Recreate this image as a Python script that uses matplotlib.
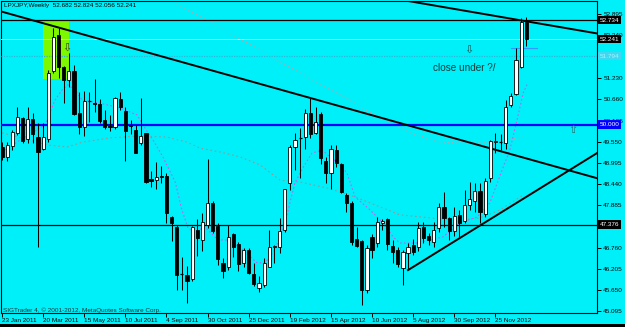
import matplotlib
matplotlib.use('Agg')
import matplotlib.pyplot as plt
import matplotlib.transforms as mtransforms
from matplotlib.patches import Rectangle
import numpy as np

# ---------------- data ----------------
opens = [49.42, 49.16, 49.44, 49.79, 50.16, 49.61, 50.14, 49.66, 49.35, 49.61,
         51.40, 52.35, 51.50, 51.17, 51.40, 50.31, 49.94, 50.62, 50.57, 50.53,
         50.12, 49.96, 49.93, 50.66, 50.36, 49.99, 49.86, 49.51, 49.77, 48.56,
         48.54, 48.65, 48.65, 47.56, 47.32, 46.08, 46.05, 45.94, 47.23, 46.97,
         47.36, 47.95, 47.34, 46.37, 46.27, 47.13, 46.86, 46.37, 46.72, 46.09,
         45.70, 45.79, 46.27, 46.78, 46.78, 47.23, 48.46, 49.42, 49.64, 49.68,
         50.29, 49.79, 50.28, 49.05, 48.72, 49.33, 48.96, 48.15, 47.93, 46.99,
         46.95, 45.67, 47.04, 46.90, 47.42, 47.51, 46.81, 46.72, 46.23, 46.64,
         46.84, 46.79, 47.30, 47.07, 46.93, 47.28, 47.84, 47.54, 47.21, 47.63,
         47.48, 47.89, 48.00, 48.26, 47.65, 48.59, 49.55, 49.53, 49.52, 50.51,
         50.80, 51.52, 52.682]
highs = [49.55, 49.55, 49.86, 50.45, 50.21, 50.47, 50.29, 50.03, 50.03, 51.43,
         52.52, 52.52, 51.54, 51.87, 51.56, 50.86, 50.88, 50.86, 51.19, 50.66,
         50.38, 50.25, 50.71, 50.86, 50.47, 50.12, 49.99, 50.69, 49.79, 48.79,
         49.02, 48.91, 48.72, 47.60, 47.36, 46.53, 46.29, 47.34, 47.51, 47.67,
         49.09, 47.98, 47.41, 46.49, 47.36, 47.16, 46.93, 46.75, 46.75, 46.36,
         46.02, 46.51, 47.23, 46.84, 47.54, 48.32, 49.46, 49.79, 49.90, 50.40,
         50.69, 50.47, 50.34, 49.16, 49.46, 49.46, 48.98, 48.19, 47.98, 47.32,
         46.97, 46.84, 47.13, 47.58, 47.51, 47.54, 46.97, 46.79, 46.71, 46.88,
         46.99, 47.45, 47.45, 47.16, 47.45, 47.93, 48.24, 47.58, 47.83, 47.76,
         48.28, 48.50, 48.47, 48.46, 48.59, 49.59, 49.77, 49.75, 50.64, 50.84,
         52.00, 52.79, 52.824]
lows = [49.07, 49.05, 49.33, 49.72, 49.51, 49.51, 49.51, 46.78, 49.33, 49.55,
        51.34, 51.21, 50.57, 50.98, 50.25, 49.75, 49.70, 50.07, 50.34, 50.03,
        49.87, 49.84, 49.87, 50.38, 49.05, 49.75, 49.24, 49.46, 48.46, 48.37,
        48.32, 48.46, 47.41, 46.95, 45.66, 45.66, 45.31, 45.90, 46.55, 46.69,
        47.28, 47.16, 46.31, 45.96, 46.18, 46.53, 46.16, 46.27, 46.09, 45.76,
        45.61, 45.74, 46.25, 46.36, 46.62, 47.19, 48.28, 48.81, 48.59, 49.37,
        49.64, 49.75, 48.96, 48.46, 48.32, 48.88, 48.19, 47.71, 46.84, 46.78,
        45.26, 45.57, 46.51, 46.79, 47.23, 46.72, 46.36, 46.27, 45.79, 46.20,
        46.58, 46.69, 46.88, 46.84, 46.79, 47.19, 47.32, 46.97, 47.07, 47.06,
        47.41, 47.76, 47.71, 47.41, 47.58, 48.50, 49.24, 49.33, 49.35, 50.47,
        50.77, 51.47, 52.056]
closes = [49.16, 49.46, 49.81, 50.19, 49.58, 50.14, 49.75, 49.29, 49.66, 51.36,
          52.30, 51.50, 51.17, 51.40, 50.28, 49.94, 50.62, 50.63, 50.54, 50.10,
          49.93, 49.94, 50.69, 50.47, 49.84, 49.96, 49.26, 49.70, 48.50, 48.53,
          48.61, 48.62, 47.67, 47.41, 46.05, 46.06, 45.90, 47.32, 47.01, 47.45,
          47.93, 47.21, 46.46, 46.16, 47.04, 46.78, 46.34, 46.72, 46.11, 45.81,
          45.83, 46.37, 46.78, 46.81, 47.21, 48.30, 49.42, 49.59, 49.65, 50.31,
          49.75, 50.07, 49.11, 48.72, 49.37, 48.98, 48.24, 47.93, 46.93, 46.81,
          45.66, 46.75, 46.72, 47.45, 47.48, 46.86, 46.66, 46.34, 46.66, 46.78,
          46.66, 47.28, 47.01, 46.97, 47.23, 47.84, 47.54, 47.21, 47.60, 47.41,
          47.89, 48.04, 48.26, 47.71, 48.53, 49.58, 49.57, 49.55, 50.47, 50.75,
          51.68, 52.68, 52.241]

date_tick_idx = [0, 8, 16, 24, 32, 40, 48, 56, 64, 72, 80, 88, 96]
date_labels = ['23 Jan 2011', '20 Mar 2011', '15 May 2011', '10 Jul 2011', '4 Sep 2011',
               '30 Oct 2011', '25 Dec 2011', '19 Feb 2012', '15 Apr 2012', '10 Jun 2012',
               '5 Aug 2012', '30 Sep 2012', '25 Nov 2012']
price_ticks = [52.895, 52.340, 51.230, 50.660, 50.105, 49.550, 48.995, 48.440,
               47.885, 46.760, 46.205, 45.650, 45.095]

# horizontal levels
level_black = [52.734, 47.376]
level_bid = 52.241
level_dotted = 51.794
level_blue = 50.000

# trend lines (index, price)
trend_down_idx = [0, 115]
trend_down_px = [52.96, 48.62]
trend_top_idx = [80.35, 115.76]
trend_top_px = [53.21, 52.39]
trend_up_idx = [79, 115.76]
trend_up_px = [46.18, 49.25]

# indicator lines
ma_fast_idx = [0.6, 3.5, 8.4, 10.3, 11.7, 12.8, 14.2, 15.6, 19.1, 23.0, 26.3, 27.4, 29.4,
               31.3, 33.7, 35.0, 36.2, 37.5, 39.5, 42.0, 44.0, 46.9, 49.6, 51.2, 53.1,
               55.1, 56.0, 57.0, 58.6, 60.3, 62.3, 63.8, 65.4, 67.1, 68.7, 71.6, 74.1,
               76.1, 77.4, 80.7, 83.3, 85.8, 89.1, 92.4, 94.9, 97.5, 98.8, 100.2, 101.4, 102.3]
ma_fast_px = [49.33, 49.59, 49.99, 50.64, 50.91, 51.04, 50.91, 50.64, 50.56, 50.43, 50.25,
              49.99, 49.59, 49.15, 48.49, 47.76, 47.28, 47.18, 47.31, 46.97, 46.97, 46.71,
              46.37, 46.37, 46.71, 47.42, 47.94, 48.47, 48.88, 49.25, 49.33, 49.15, 48.99,
              48.73, 48.10, 47.76, 47.42, 47.05, 46.89, 46.89, 46.97, 47.05, 47.42, 47.57,
              47.94, 48.88, 49.33, 50.12, 50.83, 51.09]
ma_slow_idx = [0, 5.45, 8.95, 12.65, 15.76, 21.0, 26.85, 32.1, 36.0, 38.5, 42.4, 46.3,
               50.2, 54.1, 58.0, 63.4, 68.7, 72.6, 77.4, 83.3, 89.1, 93.0, 96.9, 101.4]
ma_slow_px = [49.78, 49.59, 49.46, 49.41, 49.54, 49.65, 49.70, 49.67, 49.54, 49.38, 49.28,
              49.15, 48.94, 48.54, 48.49, 48.33, 48.10, 47.89, 47.63, 47.55, 47.49, 47.55,
              47.76, 48.15]
env_idx = [33.07, 40.47, 50.2, 58.0, 67.7, 73.5, 79.4, 85.2, 90.5, 95.5, 101.4]
env_px = [53.24, 52.69, 51.95, 51.35, 50.64, 50.17, 49.78, 49.54, 49.51, 49.54, 49.67]

# highlighted box
box_idx = [8.03, 13.03]
box_px = [51.19, 52.72]

# ---------------- drawing ----------------
W, H = 625, 327
BG = '#00F0FA'
FONT = 'Liberation Sans'
fig = plt.figure(figsize=(W / 100, H / 100), dpi=100)
fig.patch.set_facecolor(BG)

ax = fig.add_axes([1 / W, 1 - 313 / H, 596 / W, 312 / H])
ax.set_facecolor(BG)
ax.set_xlim(-0.195, 115.76)
ax.set_ylim(45.054, 53.241)
for s in ax.spines.values():
    s.set_color('black')
    s.set_linewidth(0.8)

# green box
ax.add_patch(Rectangle((box_idx[0], box_px[0]), box_idx[1] - box_idx[0], box_px[1] - box_px[0],
                       facecolor='#7CF800', edgecolor='none', zorder=1))

# indicator lines
ax.plot(env_idx, env_px, color='#9AB0B8', lw=0.8, ls=(0, (1.5, 2.5)), zorder=2)
ax.plot(ma_slow_idx, ma_slow_px, color='#8A9C9C', lw=0.8, ls=(0, (1.5, 2.5)), zorder=2)
ax.plot(ma_fast_idx, ma_fast_px, color='#C060F0', lw=0.8, ls=(0, (1.5, 2.0)), zorder=2)

# horizontal levels
for lv in level_black:
    ax.axhline(lv, color='black', lw=0.9, zorder=3)
ax.axhline(level_bid, color='#C8E8E8', lw=0.7, zorder=3)
ax.axhline(level_dotted, color='#30B8D8', lw=0.9, ls=(0, (1, 1)), zorder=3)
ax.axhline(level_blue, color='#0000FF', lw=1.6, zorder=3)
ax.plot([99, 104], [52.01, 52.01], color='#3399FF', lw=0.8, zorder=3)

# trend lines
ax.axline((trend_down_idx[0], trend_down_px[0]), (trend_down_idx[1], trend_down_px[1]),
          color='black', lw=1.4, zorder=3)
ax.axline((trend_top_idx[0], trend_top_px[0]), (trend_top_idx[1], trend_top_px[1]),
          color='black', lw=1.4, zorder=3)
ax.plot(trend_up_idx, trend_up_px, color='black', lw=1.4, zorder=3)

# candles
bw = 0.62
for i, (o, h, l, c) in enumerate(zip(opens, highs, lows, closes)):
    ax.vlines(i, l, h, color='black', lw=0.75, zorder=4)
    bottom = min(o, c)
    height = abs(c - o)
    if height < 0.02:
        ax.hlines((o + c) / 2, i - bw / 2, i + bw / 2, color='black', lw=0.9, zorder=5)
    else:
        ax.add_patch(Rectangle((i - bw / 2, bottom), bw, height,
                               facecolor='white' if c > o else 'black',
                               edgecolor='black', lw=0.6, zorder=5))

# axes ticks
ax.yaxis.tick_right()
ax.set_yticks(price_ticks)
ax.set_yticklabels([f'{v:.3f}' for v in price_ticks])
ax.set_xticks(date_tick_idx)
ax.set_xticklabels(date_labels)
for lab in ax.get_xticklabels():
    lab.set_ha('left')
ax.tick_params(axis='y', length=3, width=0.7, pad=1.5, labelsize=4.6, colors='black')
ax.tick_params(axis='x', length=3, width=0.7, pad=0.8, labelsize=4.6, colors='black')
for lab in ax.get_xticklabels() + ax.get_yticklabels():
    lab.set_fontfamily(FONT)

# right-side level labels
trans = mtransforms.blended_transform_factory(ax.transAxes, ax.transData)
def level_label(v, fc, tc):
    ax.text(1.0 + 2.5 / 596, v, f'{v:.3f}', transform=trans, fontsize=4.6, family=FONT,
            color=tc, va='center', ha='left', zorder=10, clip_on=False,
            bbox=dict(boxstyle='square,pad=0.25', fc=fc, ec='none'))
level_label(level_black[0], 'black', 'white')
level_label(level_bid, 'black', 'white')
level_label(level_dotted, '#40D8F0', '#A0F4FF')
level_label(level_blue, '#0000FF', 'white')
level_label(level_black[1], 'black', 'white')

# texts
fig.text(4 / W, 1 - 6 / H, 'LPXJPY,Weekly  52.682 52.824 52.056 52.241', fontsize=4.6,
         family=FONT, color='black', va='center', ha='left')
fig.text(3 / W, 1 - 310 / H, 'SIGTrader 4, \u00a9 2001-2012, MetaQuotes Software Corp.',
         fontsize=4.6, family=FONT, color='#103838', va='center', ha='left')
ax.text(83.9, 51.48, 'close under ?/', fontsize=7.2, family=FONT, color='#183838',
        va='center', ha='left', zorder=10)
ax.text(12.7, 52.0, '\u21e9', fontsize=8, family='DejaVu Sans', color='#304020',
        va='center', ha='center', zorder=10)
ax.text(90.8, 51.96, '\u21e9', fontsize=8, family='DejaVu Sans', color='#205050',
        va='center', ha='center', zorder=10)
ax.text(111.1, 49.85, '\u21e7', fontsize=8, family='DejaVu Sans', color='#207070',
        va='center', ha='center', zorder=10)

# bottom frame strip
fig.patches.append(Rectangle((0, 0), 1, 3 / H, transform=fig.transFigure,
                             facecolor='black', edgecolor='none'))

fig.savefig('out.png', dpi=100, facecolor=BG)
